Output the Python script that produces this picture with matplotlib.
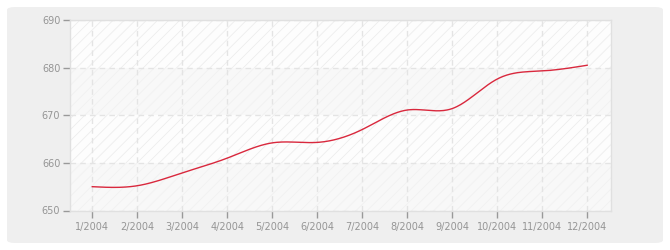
import numpy as np
import matplotlib
matplotlib.use("Agg")
import matplotlib.pyplot as plt
from matplotlib.patches import FancyBboxPatch

months = ["1/2004", "2/2004", "3/2004", "4/2004", "5/2004", "6/2004",
          "7/2004", "8/2004", "9/2004", "10/2004", "11/2004", "12/2004"]
values = [655.0, 655.2, 657.9, 661.0, 664.2, 664.3,
          667.0, 671.1, 671.4, 677.6, 679.3, 680.5]
yticks = [650, 660, 670, 680, 690]


def natural_spline(x, y, n=400):
    x = np.asarray(x, float); y = np.asarray(y, float)
    k = len(x)
    h = np.diff(x)
    A = np.zeros((k, k)); b = np.zeros(k)
    A[0, 0] = 1; A[-1, -1] = 1
    for i in range(1, k - 1):
        A[i, i - 1] = h[i - 1]; A[i, i] = 2 * (h[i - 1] + h[i]); A[i, i + 1] = h[i]
        b[i] = 3 * ((y[i + 1] - y[i]) / h[i] - (y[i] - y[i - 1]) / h[i - 1])
    c = np.linalg.solve(A, b)
    xs = np.linspace(x[0], x[-1], n)
    ys = np.empty_like(xs)
    for j, xv in enumerate(xs):
        i = min(np.searchsorted(x, xv, side='right') - 1, k - 2)
        dx = xv - x[i]
        bi = (y[i + 1] - y[i]) / h[i] - h[i] * (2 * c[i] + c[i + 1]) / 3
        di = (c[i + 1] - c[i]) / (3 * h[i])
        ys[j] = y[i] + bi * dx + c[i] * dx ** 2 + di * dx ** 3
    return xs, ys


plt.rcParams['hatch.linewidth'] = 0.6
fig = plt.figure(figsize=(6.7, 2.5), dpi=100, facecolor='white')

bg = FancyBboxPatch((7 / 670, 7 / 250), 656 / 670, 236 / 250,
                    boxstyle="round,pad=0,rounding_size=0.012",
                    transform=fig.transFigure, facecolor='#efefef',
                    edgecolor='none', zorder=-10)
fig.patches.append(bg)

ax = fig.add_axes([70 / 670, 1 - 210.5 / 250, 541 / 670, 190.5 / 250])
ax.set_zorder(1)
ax.set_facecolor('white')

x = np.arange(1, len(values) + 1)
ax.set_xlim(0.505, 12.53)
ax.set_ylim(yticks[0], yticks[-1])

for i in range(len(yticks) - 1):
    lo, hi = yticks[i], yticks[i + 1]
    if i % 2 == 1:
        ax.axhspan(lo, hi, facecolor='#fdfdfd', edgecolor='#ededed',
                   hatch='///', linewidth=0, zorder=0)
    else:
        ax.axhspan(lo, hi, facecolor='#f8f8f8', edgecolor='#f1f1f1',
                   hatch='///', linewidth=0, zorder=0)

ax.grid(True, color='#e4e4e4', linestyle=(0, (4, 3)), linewidth=1, zorder=1)

xs, ys = natural_spline(x, values)
ax.plot(xs, ys, color='#d9283d', linewidth=1.0, zorder=3)

ax.set_xticks(x)
ax.set_xticklabels(months)
ax.set_yticks(yticks)
ax.tick_params(axis='both', colors='#999999', labelcolor='#959595',
               labelsize=7, length=5, width=1)
ax.tick_params(axis='x', pad=3)
ax.tick_params(axis='y', pad=2)
for s in ax.spines.values():
    s.set_color('#e0e0e0')
    s.set_linewidth(1)

fig.savefig('out.png', dpi=100, facecolor='white')
